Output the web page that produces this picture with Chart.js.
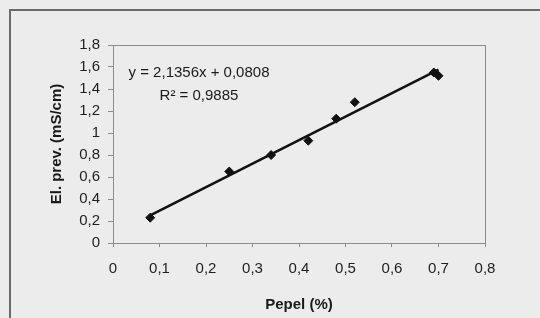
<!DOCTYPE html>
<html>
<head>
<meta charset="utf-8">
<script src="https://cdn.jsdelivr.net/npm/chart.js@4"></script>
<style>
  html, body { margin: 0; padding: 0; background: #ececec; }
  #wrap { position: relative; width: 540px; height: 318px; overflow: hidden; background: #ececec; }
  #frame { position: absolute; left: 9px; top: 9px; width: 600px; height: 400px; border: 2px solid #6a6a6a; box-sizing: border-box; }
  canvas { position: absolute; left: 0; top: 0; }
</style>
</head>
<body>
<div id="wrap">
  <div id="frame"></div>
  <canvas id="c" width="540" height="318"></canvas>
</div>
<script>
// Data
const ashPercent = [0.08, 0.25, 0.34, 0.42, 0.48, 0.52, 0.69, 0.70];
const conductivity = [0.23, 0.65, 0.80, 0.93, 1.13, 1.28, 1.55, 1.52];
const trendSlope = 2.1356;
const trendIntercept = 0.0808;
const equationLabel = "y = 2,1356x + 0,0808";
const r2Label = "R² = 0,9885";
const xTitle = "Pepel (%)";
const yTitle = "El. prev. (mS/cm)";

const points = ashPercent.map((x, i) => ({ x: x, y: conductivity[i] }));
const xMin = Math.min(...ashPercent), xMax = Math.max(...ashPercent);
const trend = [xMin, xMax].map(x => ({ x: x, y: trendSlope * x + trendIntercept }));

const FONT = "'Liberation Sans', Arial, sans-serif";
const comma = v => String(Math.round(v * 10) / 10).replace('.', ',');

const framePlugin = {
  id: 'framePlugin',
  afterDraw(chart) {
    const { ctx, chartArea: a } = chart;
    ctx.save();
    ctx.strokeStyle = '#8c8c8c';
    ctx.lineWidth = 1;
    ctx.strokeRect(a.left + 0.5, a.top + 0.5, a.right - a.left, a.bottom - a.top);
    ctx.fillStyle = '#1a1a1a';
    ctx.font = '15px ' + FONT;
    ctx.textAlign = 'center';
    ctx.textBaseline = 'middle';
    const cx = a.left + 86;
    ctx.fillText(equationLabel, cx, a.top + 28);
    ctx.fillText(r2Label, cx, a.top + 51);
    ctx.restore();
  }
};

new Chart(document.getElementById('c'), {
  type: 'scatter',
  data: {
    datasets: [
      {
        data: trend,
        showLine: true,
        borderColor: '#111',
        borderWidth: 2.5,
        pointRadius: 0,
        order: 2
      },
      {
        data: points,
        pointStyle: 'rectRot',
        pointRadius: 4.5,
        backgroundColor: '#111',
        borderColor: '#111',
        borderWidth: 1,
        order: 1
      }
    ]
  },
  options: {
    responsive: false,
    animation: false,
    devicePixelRatio: 1,
    layout: { padding: { left: 44, top: 45, right: 55, bottom: 0 } },
    plugins: { legend: { display: false }, tooltip: { enabled: false } },
    scales: {
      x: {
        type: 'linear', min: 0, max: 0.8,
        ticks: { stepSize: 0.1, callback: comma, color: '#1e1e1e', font: { family: FONT, size: 15 }, padding: 13 },
        grid: { drawOnChartArea: false, drawTicks: true, tickLength: 4, color: '#8c8c8c' },
        border: { color: '#8c8c8c' },
        title: { display: true, text: xTitle, color: '#1a1a1a', font: { family: FONT, size: 15, weight: 'bold' }, padding: { top: 5, bottom: 4 } }
      },
      y: {
        type: 'linear', min: 0, max: 1.8,
        ticks: { stepSize: 0.2, callback: comma, color: '#1e1e1e', font: { family: FONT, size: 15 }, padding: 8 },
        grid: { drawOnChartArea: false, drawTicks: true, tickLength: 5, color: '#8c8c8c' },
        border: { color: '#8c8c8c' },
        title: { display: true, text: yTitle, color: '#1a1a1a', font: { family: FONT, size: 15, weight: 'bold' }, padding: { bottom: 6 } },
        afterFit(scale) { scale.width = 69; }
      }
    }
  },
  plugins: [framePlugin]
});
</script>
</body>
</html>
